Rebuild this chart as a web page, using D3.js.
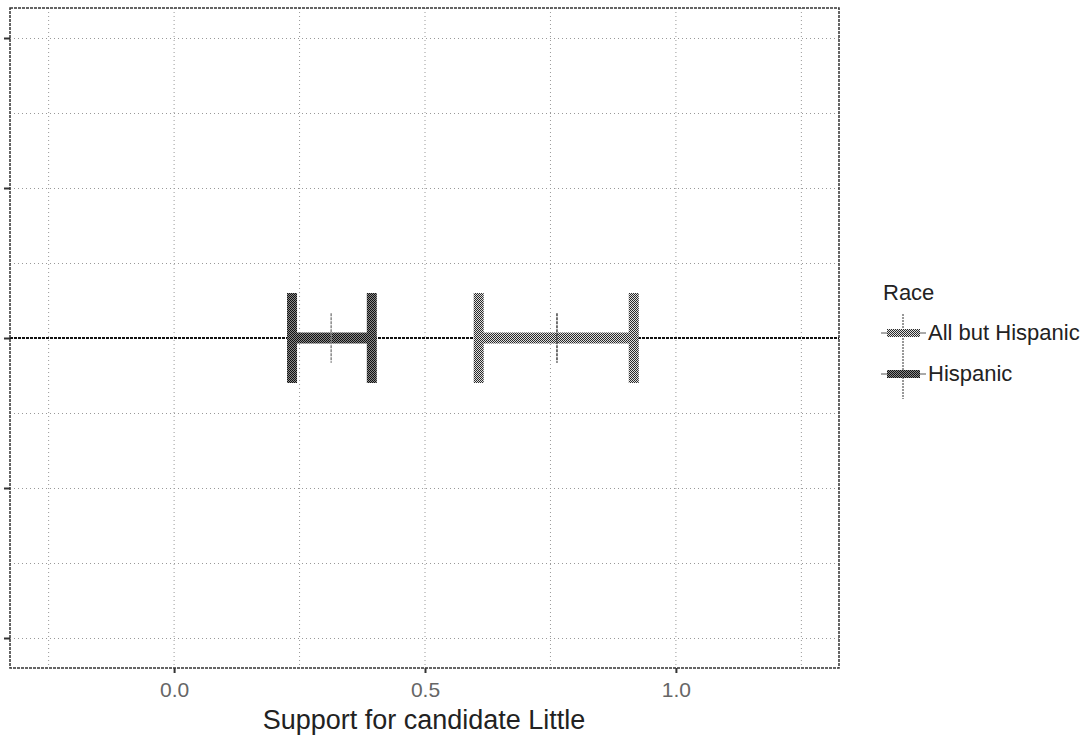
<!DOCTYPE html>
<html>
<head>
<meta charset="utf-8">
<script src="https://cdn.jsdelivr.net/npm/d3@7"></script>
<style>
  html, body { margin: 0; padding: 0; background: #fff; }
  text { font-family: "Liberation Sans", Arial, sans-serif; }
</style>
</head>
<body>
<svg id="chart" width="1087" height="738"></svg>
<script>
// ---- data ----
const races = ["All but Hispanic", "Hispanic"];
const lowerCI = [0.607, 0.235];
const upperCI = [0.916, 0.394];
const estimate = [0.763, 0.313];
const xTicks = [0.0, 0.5, 1.0];
const xTickLabels = ["0.0", "0.5", "1.0"];
const yTicks = [-2, -1, 0, 1, 2];
const xTitle = "Support for candidate Little";
const legendTitle = "Race";

// ---- layout ----
const svg = d3.select("#chart");
const panel = {left: 10, right: 839, top: 8, bottom: 668};
const x = d3.scaleLinear().domain([-0.327, 1.325]).range([panel.left, panel.right]);
const y = d3.scaleLinear().domain([-2.2, 2.2]).range([panel.bottom, panel.top]);

// patterns
const defs = svg.append("defs");
function checker(id, a, b) {
  const p = defs.append("pattern").attr("id", id).attr("patternUnits", "userSpaceOnUse")
    .attr("width", 2).attr("height", 2);
  p.append("rect").attr("width", 2).attr("height", 2).attr("fill", b);
  p.append("rect").attr("x", 0).attr("y", 0).attr("width", 1).attr("height", 1).attr("fill", a);
  p.append("rect").attr("x", 1).attr("y", 1).attr("width", 1).attr("height", 1).attr("fill", a);
}
checker("pat0", "#2a2a2a", "#e0e0e0");
checker("pat1", "#111111", "#8a8a8a");
const fills = ["url(#pat0)", "url(#pat1)"];
const midColors = ["#444", "#888"];

// grid
const g = svg.append("g");
const xMinor = [-0.25, 0.25, 0.75, 1.25];
const yMinor = [-1.5, -0.5, 0.5, 1.5];
g.selectAll(".gx").data(xTicks.concat(xMinor)).enter().append("line")
  .attr("x1", d => x(d)).attr("x2", d => x(d)).attr("y1", panel.top).attr("y2", panel.bottom)
  .attr("stroke", "#999").attr("stroke-width", 1).attr("stroke-dasharray", "1,3");
g.selectAll(".gy").data(yTicks.concat(yMinor)).enter().append("line")
  .attr("y1", d => y(d) + 0.5).attr("y2", d => y(d) + 0.5).attr("x1", panel.left).attr("x2", panel.right)
  .attr("stroke", "#999").attr("stroke-width", 1).attr("stroke-dasharray", "1,3");

// zero reference line
g.append("line").attr("x1", panel.left).attr("x2", panel.right)
  .attr("y1", y(0)).attr("y2", y(0))
  .attr("stroke", "#111").attr("stroke-width", 2).attr("stroke-dasharray", "3,1");

// error bars
const capHalf = 0.3, barW = 11, capW = 10, midHalf = 0.165;
const bars = svg.append("g").selectAll("g").data(races).enter().append("g");
bars.append("rect")
  .attr("x", (d, i) => x(lowerCI[i])).attr("width", (d, i) => x(upperCI[i]) - x(lowerCI[i]))
  .attr("y", y(0) - barW / 2).attr("height", barW)
  .attr("fill", (d, i) => fills[i]);
[lowerCI, upperCI].forEach(arr => {
  bars.append("rect")
    .attr("x", (d, i) => x(arr[i]) - capW / 2).attr("width", capW)
    .attr("y", y(capHalf)).attr("height", y(-capHalf) - y(capHalf))
    .attr("fill", (d, i) => fills[i]);
});
bars.append("line")
  .attr("x1", (d, i) => x(estimate[i])).attr("x2", (d, i) => x(estimate[i]))
  .attr("y1", y(midHalf)).attr("y2", y(-midHalf))
  .attr("stroke", (d, i) => midColors[i]).attr("stroke-width", 1.5).attr("stroke-dasharray", "3,1");

// panel border
svg.append("rect").attr("x", panel.left).attr("y", panel.top)
  .attr("width", panel.right - panel.left).attr("height", panel.bottom - panel.top)
  .attr("fill", "none").attr("stroke", "#333").attr("stroke-width", 1.5).attr("stroke-dasharray", "3,1");

// axes
const xAxis = svg.append("g").attr("transform", `translate(0,${panel.bottom})`)
  .call(d3.axisBottom(x).tickValues(xTicks).tickFormat((d, i) => xTickLabels[i]).tickSize(5).tickPadding(9));
xAxis.select(".domain").remove();
xAxis.selectAll("line").attr("stroke", "#333").attr("stroke-width", 2);
xAxis.selectAll("text").attr("font-size", 21).attr("fill", "#666")
  .style("font-family", "'Liberation Sans', Arial, sans-serif");

const yAxis = svg.append("g").attr("transform", `translate(${panel.left},0)`)
  .call(d3.axisLeft(y).tickValues(yTicks).tickFormat("").tickSize(6));
yAxis.select(".domain").remove();
yAxis.selectAll("line").attr("stroke", "#333").attr("stroke-width", 2);

// axis title
svg.append("text").attr("x", 424).attr("y", 729)
  .attr("text-anchor", "middle").attr("font-size", 27).attr("fill", "#222").text(xTitle);

// legend
const lg = svg.append("g");
lg.append("text").attr("x", 883).attr("y", 300).attr("font-size", 22).attr("fill", "#222").text(legendTitle);
const legY = [333, 374];
lg.append("line").attr("x1", 903).attr("x2", 903).attr("y1", 314).attr("y2", 399)
  .attr("stroke", "#333").attr("stroke-width", 1).attr("stroke-dasharray", "2,1");
races.forEach((r, i) => {
  lg.append("line").attr("x1", 881).attr("x2", 926).attr("y1", legY[i]).attr("y2", legY[i])
    .attr("stroke", "#555").attr("stroke-width", 1);
  lg.append("rect").attr("x", 887).attr("y", legY[i] - 4).attr("width", 33).attr("height", 8)
    .attr("fill", fills[i]);
  lg.append("text").attr("x", 928).attr("y", legY[i] + 7).attr("font-size", 22).attr("fill", "#222").text(r);
});
</script>
</body>
</html>
